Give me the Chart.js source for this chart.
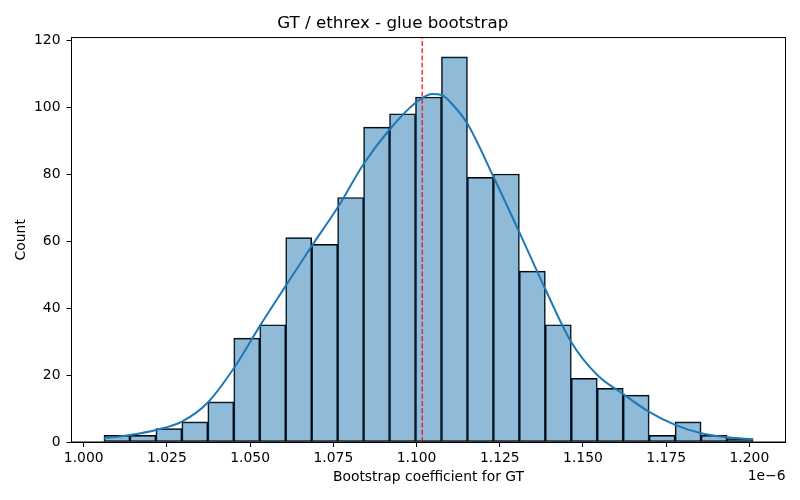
<!DOCTYPE html>
<html>
<head>
<meta charset="utf-8">
<script src="https://cdn.jsdelivr.net/npm/chart.js@4/dist/chart.umd.min.js"></script>
<style>
  html, body { margin: 0; padding: 0; background: #fff; }
  #wrap { width: 800px; height: 500px; }
</style>
</head>
<body>
<div id="wrap"><canvas id="chart" width="800" height="500"></canvas></div>
<script>
// histogram bins (x in units of 1e-6)
const binStart = 1.00609;
const binWidth = 0.0078;
const counts = [2, 2, 4, 6, 12, 31, 35, 61, 59, 73, 94, 98, 103, 115, 79, 80, 51, 35, 19, 16, 14, 2, 6, 2, 1];

// kde curve (scaled to counts)
const kdeX = [1.0061, 1.0139, 1.0217, 1.0295, 1.0373, 1.0451, 1.0529, 1.0607, 1.0685, 1.0763,
              1.0841, 1.0919, 1.0997, 1.1047, 1.1075, 1.1114, 1.1153, 1.1231, 1.1309, 1.1387,
              1.1465, 1.1543, 1.1621, 1.1699, 1.1777, 1.1855, 1.1933, 1.2011];
const kdeY = [1.1, 2.1, 3.6, 6.1, 11.8, 22, 34.6, 46.6, 58.5, 70,
              83, 93.3, 101.3, 103.9, 103.6, 100.1, 95, 79.2, 62.6, 45.6,
              29.8, 20, 14.3, 9, 5.1, 2.6, 1.4, 0.8];

const medianLine = 1.1017;

const xTickValues = [1.000, 1.025, 1.050, 1.075, 1.100, 1.125, 1.150, 1.175, 1.200];
const yTickValues = [0, 20, 40, 60, 80, 100, 120];
const xMin = 0.99634, xMax = 1.21084;
const yMax = 120.75;

const FONT = '"DejaVu Sans", sans-serif';

const barData = counts.map((c, i) => ({ x: binStart + binWidth * (i + 0.5), y: c }));
const kdeData = kdeX.map((x, i) => ({ x: x, y: kdeY[i] }));

// top/right spines + offset text
const framePlugin = {
  id: 'frame',
  afterDraw(chart) {
    const { ctx, chartArea } = chart;
    ctx.save();
    ctx.strokeStyle = '#000';
    ctx.lineWidth = 1;
    ctx.strokeRect(chartArea.left, chartArea.top, chartArea.right - chartArea.left, chartArea.bottom - chartArea.top);
    ctx.fillStyle = '#000';
    ctx.font = '13.9px ' + FONT;
    ctx.textAlign = 'right';
    ctx.textBaseline = 'middle';
    ctx.fillText('1e\u22126', chartArea.right, 476);
    ctx.restore();
  }
};

new Chart(document.getElementById('chart'), {
  data: {
    datasets: [
      {
        type: 'line',
        data: kdeData,
        borderColor: '#1f77b4',
        borderWidth: 2,
        pointRadius: 0,
        cubicInterpolationMode: 'monotone',
        order: 1
      },
      {
        type: 'line',
        data: [{ x: medianLine, y: 0 }, { x: medianLine, y: yMax }],
        borderColor: 'red',
        borderWidth: 1.2,
        borderDash: [5, 2.2],
        pointRadius: 0,
        order: 2
      },
      {
        type: 'bar',
        data: barData,
        backgroundColor: 'rgba(31,119,180,0.5)',
        borderColor: '#000',
        borderWidth: 1,
        borderSkipped: false,
        barPercentage: 1.0,
        categoryPercentage: 1.0,
        order: 3
      }
    ]
  },
  options: {
    responsive: false,
    animation: false,
    layout: { padding: { left: 0, right: 14.5, top: 0, bottom: 0 } },
    plugins: {
      legend: { display: false },
      tooltip: { enabled: false },
      title: {
        display: true,
        text: 'GT / ethrex - glue bootstrap',
        color: '#000',
        font: { family: FONT, size: 16.7, weight: 'normal' },
        padding: { top: 14, bottom: 3.5 }
      }
    },
    scales: {
      x: {
        type: 'linear',
        min: xMin,
        max: xMax,
        offset: false,
        afterBuildTicks(scale) { scale.ticks = xTickValues.map(v => ({ value: v })); },
        afterFit(scale) { scale.height = 58; },
        grid: { offset: false, drawOnChartArea: false, drawTicks: true, tickLength: 5, color: '#000' },
        border: { display: true, color: '#000', width: 1 },
        ticks: {
          color: '#000',
          padding: 3,
          maxRotation: 0,
          font: { family: FONT, size: 13.9 },
          callback: v => v.toFixed(3)
        },
        title: {
          display: true,
          text: 'Bootstrap coefficient for GT',
          color: '#000',
          font: { family: FONT, size: 13.9 },
          padding: { top: 0, bottom: 14.7 }
        }
      },
      y: {
        min: 0,
        max: yMax,
        afterBuildTicks(scale) { scale.ticks = yTickValues.map(v => ({ value: v })); },
        afterFit(scale) { scale.width = 71.5; },
        grid: { drawOnChartArea: false, drawTicks: true, tickLength: 5, color: '#000' },
        border: { display: true, color: '#000', width: 1 },
        ticks: {
          color: '#000',
          padding: 6,
          font: { family: FONT, size: 13.9 },
          callback: v => String(v)
        },
        title: {
          display: true,
          text: 'Count',
          color: '#000',
          font: { family: FONT, size: 13.9 },
          padding: { top: 12.7, bottom: 0 }
        }
      }
    }
  },
  plugins: [framePlugin]
});
</script>
</body>
</html>
